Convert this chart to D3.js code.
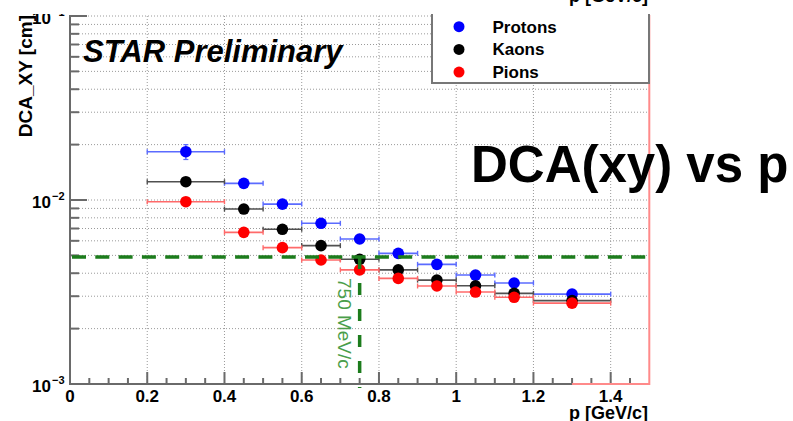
<!DOCTYPE html>
<html>
<head>
<meta charset="utf-8">
<script src="https://cdn.jsdelivr.net/npm/d3@7"></script>
<style>
  html, body { margin: 0; padding: 0; background: #fff; }
  svg { display: block; }
  text { font-family: "Liberation Sans", Arial, Helvetica, sans-serif; }
</style>
</head>
<body>
<svg id="chart" width="793" height="421"></svg>
<script>
// Momentum bins [GeV/c]
const binLow    = [0.2, 0.4, 0.5, 0.6, 0.7, 0.8, 0.9, 1.0, 1.1, 1.2];
const binHigh   = [0.4, 0.5, 0.6, 0.7, 0.8, 0.9, 1.0, 1.1, 1.2, 1.4];
const binCenter = [0.3, 0.45, 0.55, 0.65, 0.75, 0.85, 0.95, 1.05, 1.15, 1.3];

// DCA_XY resolution [cm] per species
const protons    = [0.0183, 0.01232, 0.0095, 0.00747, 0.00614, 0.00513, 0.00447, 0.00391, 0.00354, 0.00308];
const protonsErr = [0.0017, 0.0004, 0.0003, 0.0002, 0.00015, 0.0001, 0.0001, 0.0001, 0.0001, 0.0001];
const kaons      = [0.01257, 0.00893, 0.00693, 0.00565, 0.00476, 0.00417, 0.00367, 0.00342, 0.00311, 0.00284];
const pions      = [0.00979, 0.00667, 0.00551, 0.00472, 0.00417, 0.00375, 0.00341, 0.00316, 0.00296, 0.00275];

const xTicks = [0, 0.2, 0.4, 0.6, 0.8, 1, 1.2, 1.4];
const xTickLabels = ["0", "0.2", "0.4", "0.6", "0.8", "1", "1.2", "1.4"];
const yDecades = [1e-3, 1e-2, 1e-1];
const yDecadeExp = ["\u22123", "\u22122", "\u22121"];

const cutMomentum = 0.75;   // 750 MeV/c
const cutLevel = 0.0049;    // reference DCA level

const svg = d3.select("#chart");
const x = d3.scaleLinear().domain([0, 1.5]).range([70, 649.3]);
const y = d3.scaleLog().domain([1e-3, 1e-1]).range([384, 16]);

const x0 = x(0), x1 = x(1.5), yB = y(1e-3), yT = y(1e-1);

// minor log values for grid and ticks
const yMinor = [];
[1e-3, 1e-2].forEach(d => { for (let k = 2; k <= 9; k++) yMinor.push(d * k); });

// grid
const grid = svg.append("g").attr("stroke", "#9a9a9a").attr("stroke-width", 1).attr("stroke-dasharray", "1,2");
grid.selectAll("line.h").data(yMinor.concat([1e-2, 1e-1])).join("line")
  .attr("x1", x0).attr("x2", x1).attr("y1", d => y(d)).attr("y2", d => y(d));
grid.selectAll("line.v").data(xTicks.slice(1)).join("line")
  .attr("x1", d => x(d)).attr("x2", d => x(d)).attr("y1", yT).attr("y2", yB);

// axes
const axisColor = "#6a6a6a";
const ax = svg.append("g").attr("stroke", axisColor).attr("stroke-width", 2);
ax.append("line").attr("x1", x0).attr("x2", x0).attr("y1", yT - 1).attr("y2", yB + 1);
ax.append("line").attr("x1", x0).attr("x2", x1).attr("y1", yB).attr("y2", yB);

// x ticks (every 0.05, major every 0.2)
const xMinor = d3.range(1, 30).map(i => i * 0.05);
ax.selectAll("line.xt").data(xMinor).join("line")
  .attr("x1", d => x(d)).attr("x2", d => x(d))
  .attr("y1", yB)
  .attr("y2", d => Math.abs(d / 0.2 - Math.round(d / 0.2)) < 1e-6 ? yB - 12 : yB - 6);

// y ticks
ax.selectAll("line.ytm").data(yMinor).join("line")
  .attr("x1", x0).attr("x2", x0 + 9).attr("y1", d => y(d)).attr("y2", d => y(d));
ax.selectAll("line.ytM").data(yDecades).join("line")
  .attr("x1", x0).attr("x2", x0 + 17).attr("y1", d => y(d)).attr("y2", d => y(d));

// histogram edge on the right
svg.append("polyline")
  .attr("points", [[x(1.3), yB], [x(1.5), yB], [x(1.5), yT - 1]].map(p => p.join(",")).join(" "))
  .attr("fill", "none").attr("stroke", "#ff8a8a").attr("stroke-width", 2);

// x tick labels
svg.append("g").selectAll("text").data(xTicks).join("text")
  .attr("x", d => x(d)).attr("y", 402)
  .attr("text-anchor", "middle").attr("font-size", 17).attr("font-weight", "bold")
  .text((d, i) => xTickLabels[i]);

// y tick labels 10^n
const yl = svg.append("g").attr("font-weight", "bold");
yDecades.forEach((d, i) => {
  yl.append("text").attr("x", 51).attr("y", y(d) + 8).attr("text-anchor", "end").attr("font-size", 17).text("10");
  yl.append("text").attr("x", 52).attr("y", y(d) + 0).attr("font-size", 11).text(yDecadeExp[i]);
});

// data
function drawSeries(vals, errs, markerColor, barColor) {
  const g = svg.append("g");
  const idx = d3.range(vals.length);
  g.selectAll("line.xe").data(idx).join("line")
    .attr("x1", i => x(binLow[i])).attr("x2", i => x(binHigh[i]))
    .attr("y1", i => y(vals[i])).attr("y2", i => y(vals[i]))
    .attr("stroke", barColor).attr("stroke-width", 1.6);
  ["L", "H"].forEach(side => {
    g.selectAll("line.cap" + side).data(idx).join("line")
      .attr("x1", i => x(side === "L" ? binLow[i] : binHigh[i]))
      .attr("x2", i => x(side === "L" ? binLow[i] : binHigh[i]))
      .attr("y1", i => y(vals[i]) - 2.5).attr("y2", i => y(vals[i]) + 2.5)
      .attr("stroke", barColor).attr("stroke-width", 1.4);
  });
  if (errs) {
    g.selectAll("line.ye").data(idx).join("line")
      .attr("x1", i => x(binCenter[i])).attr("x2", i => x(binCenter[i]))
      .attr("y1", i => y(vals[i] + errs[i])).attr("y2", i => y(vals[i] - errs[i]))
      .attr("stroke", barColor).attr("stroke-width", 1.4);
    [1, -1].forEach(s => {
      g.selectAll("line.yc" + s).data(idx).join("line")
        .attr("x1", i => x(binCenter[i]) - 2.5).attr("x2", i => x(binCenter[i]) + 2.5)
        .attr("y1", i => y(vals[i] + s * errs[i])).attr("y2", i => y(vals[i] + s * errs[i]))
        .attr("stroke", barColor).attr("stroke-width", 1.2);
    });
  }
  g.selectAll("circle").data(idx).join("circle")
    .attr("cx", i => x(binCenter[i])).attr("cy", i => y(vals[i])).attr("r", 5.8)
    .attr("fill", markerColor);
}
drawSeries(protons, protonsErr, "#0000ff", "#5b6bff");
drawSeries(kaons, null, "#000000", "#505050");
drawSeries(pions, null, "#ff0000", "#ff6a6a");

// cut lines
const green = "#1c7c1c";
svg.append("line")
  .attr("x1", x0 + 2).attr("x2", x1).attr("y1", y(cutLevel)).attr("y2", y(cutLevel))
  .attr("stroke", green).attr("stroke-width", 3.5).attr("stroke-dasharray", "14,9.3");
svg.append("line")
  .attr("x1", x(cutMomentum)).attr("x2", x(cutMomentum)).attr("y1", y(cutLevel)).attr("y2", yB + 4)
  .attr("stroke", green).attr("stroke-width", 3.5).attr("stroke-dasharray", "12,14");
svg.append("text")
  .attr("transform", `translate(${x(cutMomentum) - 22},278) rotate(90)`)
  .attr("font-size", 19).attr("fill", "#4a9e4a")
  .text("750 MeV/c");

// legend
const lg = svg.append("g");
lg.append("rect").attr("x", 432).attr("y", -10).attr("width", 217).attr("height", 93)
  .attr("fill", "#fff").attr("stroke", "#777").attr("stroke-width", 2);
const legendItems = [["Protons", "#0000ff"], ["Kaons", "#000000"], ["Pions", "#ff0000"]];
legendItems.forEach(([name, col], i) => {
  const cy = 26.7 + i * 22.7;
  lg.append("circle").attr("cx", 459).attr("cy", cy).attr("r", 5.5).attr("fill", col);
  lg.append("text").attr("x", 492.5).attr("y", cy + 6).attr("font-size", 17).attr("font-weight", "bold").text(name);
});

// top margin mask
svg.append("rect").attr("x", 0).attr("y", 0).attr("width", 660).attr("height", 14).attr("fill", "#fff");

// titles
svg.append("text").attr("x", 648).attr("y", 2).attr("text-anchor", "end")
  .attr("font-size", 18).attr("font-weight", "bold").text("p [GeV/c]");
svg.append("text").attr("x", 648).attr("y", 419).attr("text-anchor", "end")
  .attr("font-size", 18).attr("font-weight", "bold").text("p [GeV/c]");
svg.append("text")
  .attr("transform", "translate(32,15) rotate(-90)")
  .attr("text-anchor", "end").attr("font-size", 19).attr("font-weight", "bold")
  .text("DCA_XY [cm]");

svg.append("text").attr("x", 83).attr("y", 61.7)
  .attr("font-size", 31).attr("font-weight", "bold").attr("font-style", "italic")
  .text("STAR Preliminary");

svg.append("text").attr("x", 471).attr("y", 181.7)
  .attr("font-size", 51).attr("font-weight", "bold")
  .text("DCA(xy) vs p");
</script>
</body>
</html>
